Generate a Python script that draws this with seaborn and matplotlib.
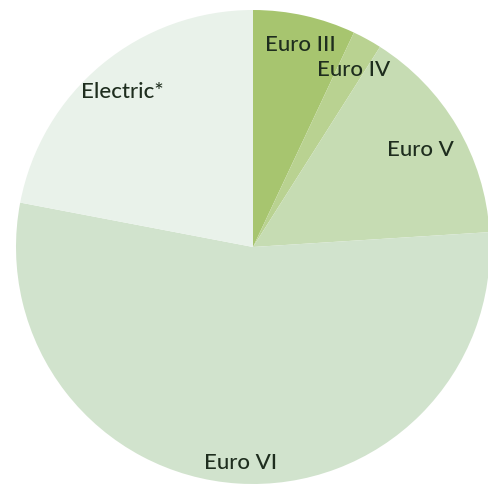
import matplotlib
matplotlib.use("Agg")
import matplotlib.pyplot as plt
import seaborn as sns

# Share of the fleet by emission standard (percent)
categories = ["Euro III", "Euro IV", "Euro V", "Euro VI", "Electric*"]
shares = [7, 2, 15, 54, 22]
colors = ["#a7c56f", "#b9d291", "#c6dcb3", "#d1e3cd", "#e9f2ea"]

# label centres in pie units (radius = 1)
label_pos = {
    "Euro III": (0.198, 0.852),
    "Euro IV": (0.426, 0.747),
    "Euro V": (0.705, 0.409),
    "Euro VI": (-0.051, -0.911),
    "Electric*": (-0.553, 0.654),
}

sns.set_theme(style="white")
plt.rcParams["font.family"] = ["Lato", "DejaVu Sans"]

fig = plt.figure(figsize=(4.89, 4.90), dpi=100)
ax = fig.add_axes([16 / 489, 6 / 490, 474 / 489, 474 / 490])

wedges, _ = ax.pie(
    shares,
    colors=colors,
    startangle=90,
    counterclock=False,
    radius=1.0,
    wedgeprops=dict(linewidth=0),
)

for name in categories:
    x, y = label_pos[name]
    ax.text(x, y, name, ha="center", va="center", fontsize=16,
            color="#1e2d1e", fontweight="medium")

ax.set_xlim(-1, 1)
ax.set_ylim(-1, 1)
ax.set_aspect("auto")
ax.axis("off")

fig.savefig("out.png", dpi=100, facecolor="white")
